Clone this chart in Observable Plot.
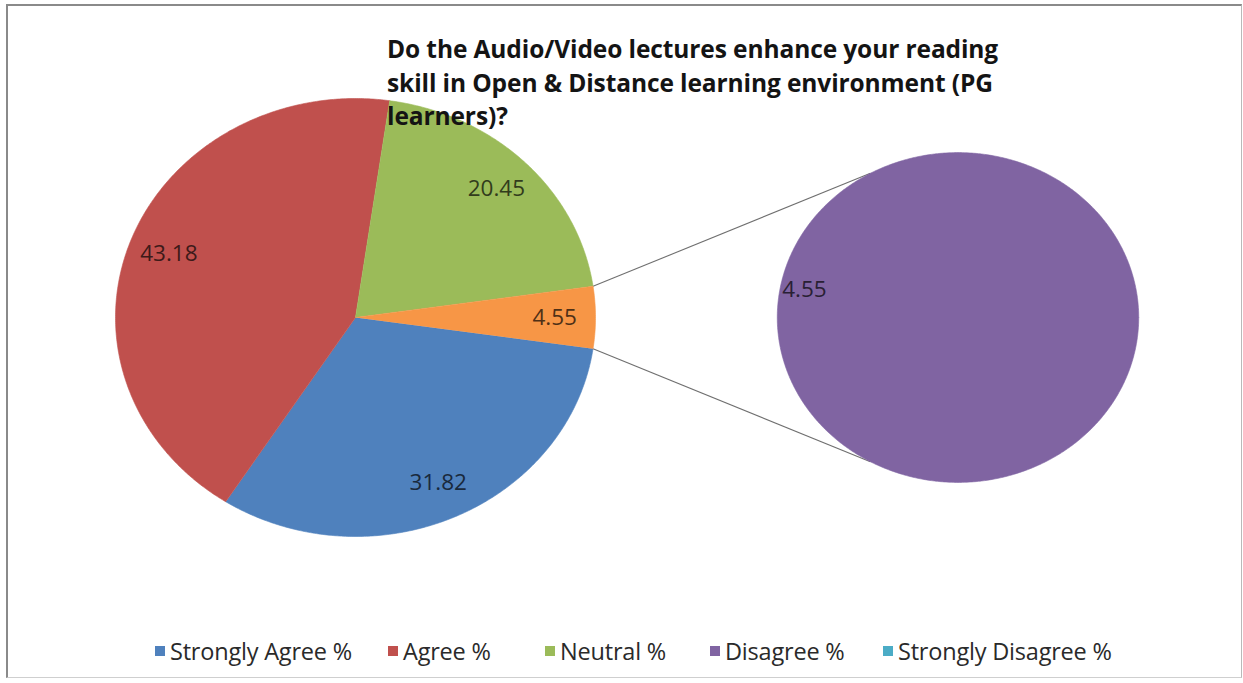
<!DOCTYPE html>
<html>
<head>
<meta charset="utf-8">
<script src="https://cdn.jsdelivr.net/npm/d3@7"></script>
<script src="https://cdn.jsdelivr.net/npm/@observablehq/plot@0.6"></script>
<style>
  html, body { margin: 0; padding: 0; background: #fff; }
  #wrap { position: relative; width: 1243px; height: 683px; overflow: hidden; font-family: "Open Sans", "DejaVu Sans", sans-serif; }
  #frame { position: absolute; left: 6px; top: 4px; width: 1236px; height: 674px; box-sizing: border-box;
           border-left: 2px solid #8a8a8a; border-top: 2px solid #8a8a8a; border-right: 1px solid #b9b9b9; border-bottom: 1px solid #cfcfcf; }
  #chart { position: absolute; left: 0; top: 0; }
  #title { position: absolute; left: 387px; top: 32px; font-weight: bold; font-size: 24.5px; line-height: 33.5px; color: #141414; white-space: nowrap; letter-spacing: -0.1px; }
  #legend { position: absolute; left: 0; top: 636px; width: 1243px; height: 30px; }
  .item { position: absolute; top: 0; display: flex; align-items: center; height: 30px; font-size: 23.5px; color: #2a2a2a; white-space: nowrap; letter-spacing: -0.2px; }
  .sw { width: 10px; height: 10px; margin-right: 5px; }
</style>
</head>
<body>
<div id="wrap">
  <div id="frame"></div>
  <div id="chart"></div>
  <div id="title"></div>
  <div id="legend"></div>
</div>
<script>
// ---- data ----
const categories = ["Strongly Agree %", "Agree %", "Neutral %", "Disagree %", "Strongly Disagree %"];
const values = [31.82, 43.18, 20.45, 4.55, 0];
const colors = ["#4F81BD", "#C0504D", "#9BBB59", "#8064A2", "#4BACC6"];
const otherName = "Other";
const otherColor = "#F79646";
const primaryCount = 3; // first three in the main pie, the rest go to the secondary pie
const titleLines = [
  "Do the Audio/Video lectures enhance your reading",
  "skill in Open & Distance learning environment (PG",
  "learners)?"
];

// ---- layout (pixels) ----
const W = 1243, H = 600;
const mainCx = 355, mainCy = 317, rxPx = 240, ryPx = 219;   // main pie (stretched like the image)
const secCxPx = 957.5, secScale = 0.753;                     // secondary pie
const labelR = 0.83;
const connectorAngle = 29 * Math.PI / 180;

// data space: main pie centered at (0,0), radius 1
const secCx = (secCxPx - mainCx) / rxPx;
const xDomain = [(0 - mainCx) / rxPx, (W - mainCx) / rxPx];
const yDomain = [(mainCy - H) / ryPx, mainCy / ryPx];

// main pie items
const mainItems = categories.slice(0, primaryCount).map((c, i) => ({name: c, value: values[i], color: colors[i]}))
  .concat([{name: otherName, value: d3.sum(values.slice(primaryCount)), color: otherColor}]);
const total = d3.sum(mainItems, d => d.value);
const otherShare = mainItems[mainItems.length - 1].value / total;
const start = Math.PI / 2 + otherShare * Math.PI; // "Other" slice centred at 3 o'clock
const mainArcs = d3.pie().value(d => d.value).sort(null).startAngle(start).endAngle(start + 2 * Math.PI)(mainItems);

// secondary pie items
const secItems = categories.slice(primaryCount).map((c, i) => ({name: c, value: values[primaryCount + i], color: colors[primaryCount + i]}));
const secArcs = d3.pie().value(d => d.value).sort(null).startAngle(Math.PI / 2).endAngle(Math.PI / 2 + 2 * Math.PI)(secItems);

function slicePoints(arc, cx, cy, r, group) {
  const pts = [];
  const span = arc.endAngle - arc.startAngle;
  const full = span >= 2 * Math.PI - 1e-9;
  if (!full) pts.push({x: cx, y: cy, key: group + arc.data.name, name: arc.data.name});
  const n = Math.max(2, Math.ceil(span / (Math.PI / 360)));
  for (let k = 0; k <= n; k++) {
    const a = arc.startAngle + span * k / n;
    pts.push({x: cx + r * Math.sin(a), y: cy + r * Math.cos(a), key: group + arc.data.name, name: arc.data.name});
  }
  return pts;
}

const polys = [];
mainArcs.filter(a => a.data.value > 0).forEach(a => polys.push(...slicePoints(a, 0, 0, 1, "m")));
secArcs.filter(a => a.data.value > 0).forEach(a => polys.push(...slicePoints(a, secCx, 0, secScale, "s")));

const fmt = v => v.toFixed(2);
const labels = [];
mainArcs.filter(a => a.data.value > 0).forEach(a => {
  const m = (a.startAngle + a.endAngle) / 2;
  labels.push({x: labelR * Math.sin(m), y: labelR * Math.cos(m), text: fmt(a.data.value), color: a.data.color, dy: 0});
});
secArcs.filter(a => a.data.value > 0).forEach(a => {
  const m = (a.startAngle + a.endAngle) / 2;
  labels.push({x: secCx + 0.85 * secScale * Math.sin(m), y: 0.85 * secScale * Math.cos(m), text: fmt(a.data.value), color: a.data.color, dy: -28});
});

const otherArc = mainArcs[mainArcs.length - 1];
const connectors = [
  {x1: Math.sin(otherArc.startAngle), y1: Math.cos(otherArc.startAngle),
   x2: secCx - secScale * Math.sin(connectorAngle), y2: secScale * Math.cos(connectorAngle)},
  {x1: Math.sin(otherArc.endAngle), y1: Math.cos(otherArc.endAngle),
   x2: secCx - secScale * Math.sin(connectorAngle), y2: -secScale * Math.cos(connectorAngle)}
];

const chart = Plot.plot({
  width: W, height: H,
  margin: 0,
  x: {domain: xDomain, axis: null},
  y: {domain: yDomain, axis: null},
  color: {domain: [...categories, otherName], range: [...colors, otherColor]},
  style: {background: "transparent", overflow: "visible"},
  marks: [
    Plot.link(connectors, {x1: "x1", y1: "y1", x2: "x2", y2: "y2", stroke: "#6f6f6f", strokeWidth: 1.1}),
    Plot.line(polys, {x: "x", y: "y", z: "key", fill: "name", stroke: "name", strokeWidth: 0.6, curve: "linear"}),
    ...labels.map(d => Plot.text([d], {x: "x", y: "y", text: "text", dy: d.dy, fill: d3.rgb(d.color).darker(3.2).formatHex(),
      fontSize: 22.5, fontFamily: "'Open Sans', 'DejaVu Sans', sans-serif"}))
  ]
});
document.getElementById("chart").appendChild(chart);

// title
const t = document.getElementById("title");
titleLines.forEach(line => { const d = document.createElement("div"); d.textContent = line; t.appendChild(d); });

// legend
const legendLeft = [155, 388, 545, 710, 883];
const lg = document.getElementById("legend");
categories.forEach((c, i) => {
  const it = document.createElement("div");
  it.className = "item";
  it.style.left = legendLeft[i] + "px";
  const sw = document.createElement("span"); sw.className = "sw"; sw.style.background = colors[i];
  const tx = document.createElement("span"); tx.textContent = c;
  it.appendChild(sw); it.appendChild(tx);
  lg.appendChild(it);
});
</script>
</body>
</html>
